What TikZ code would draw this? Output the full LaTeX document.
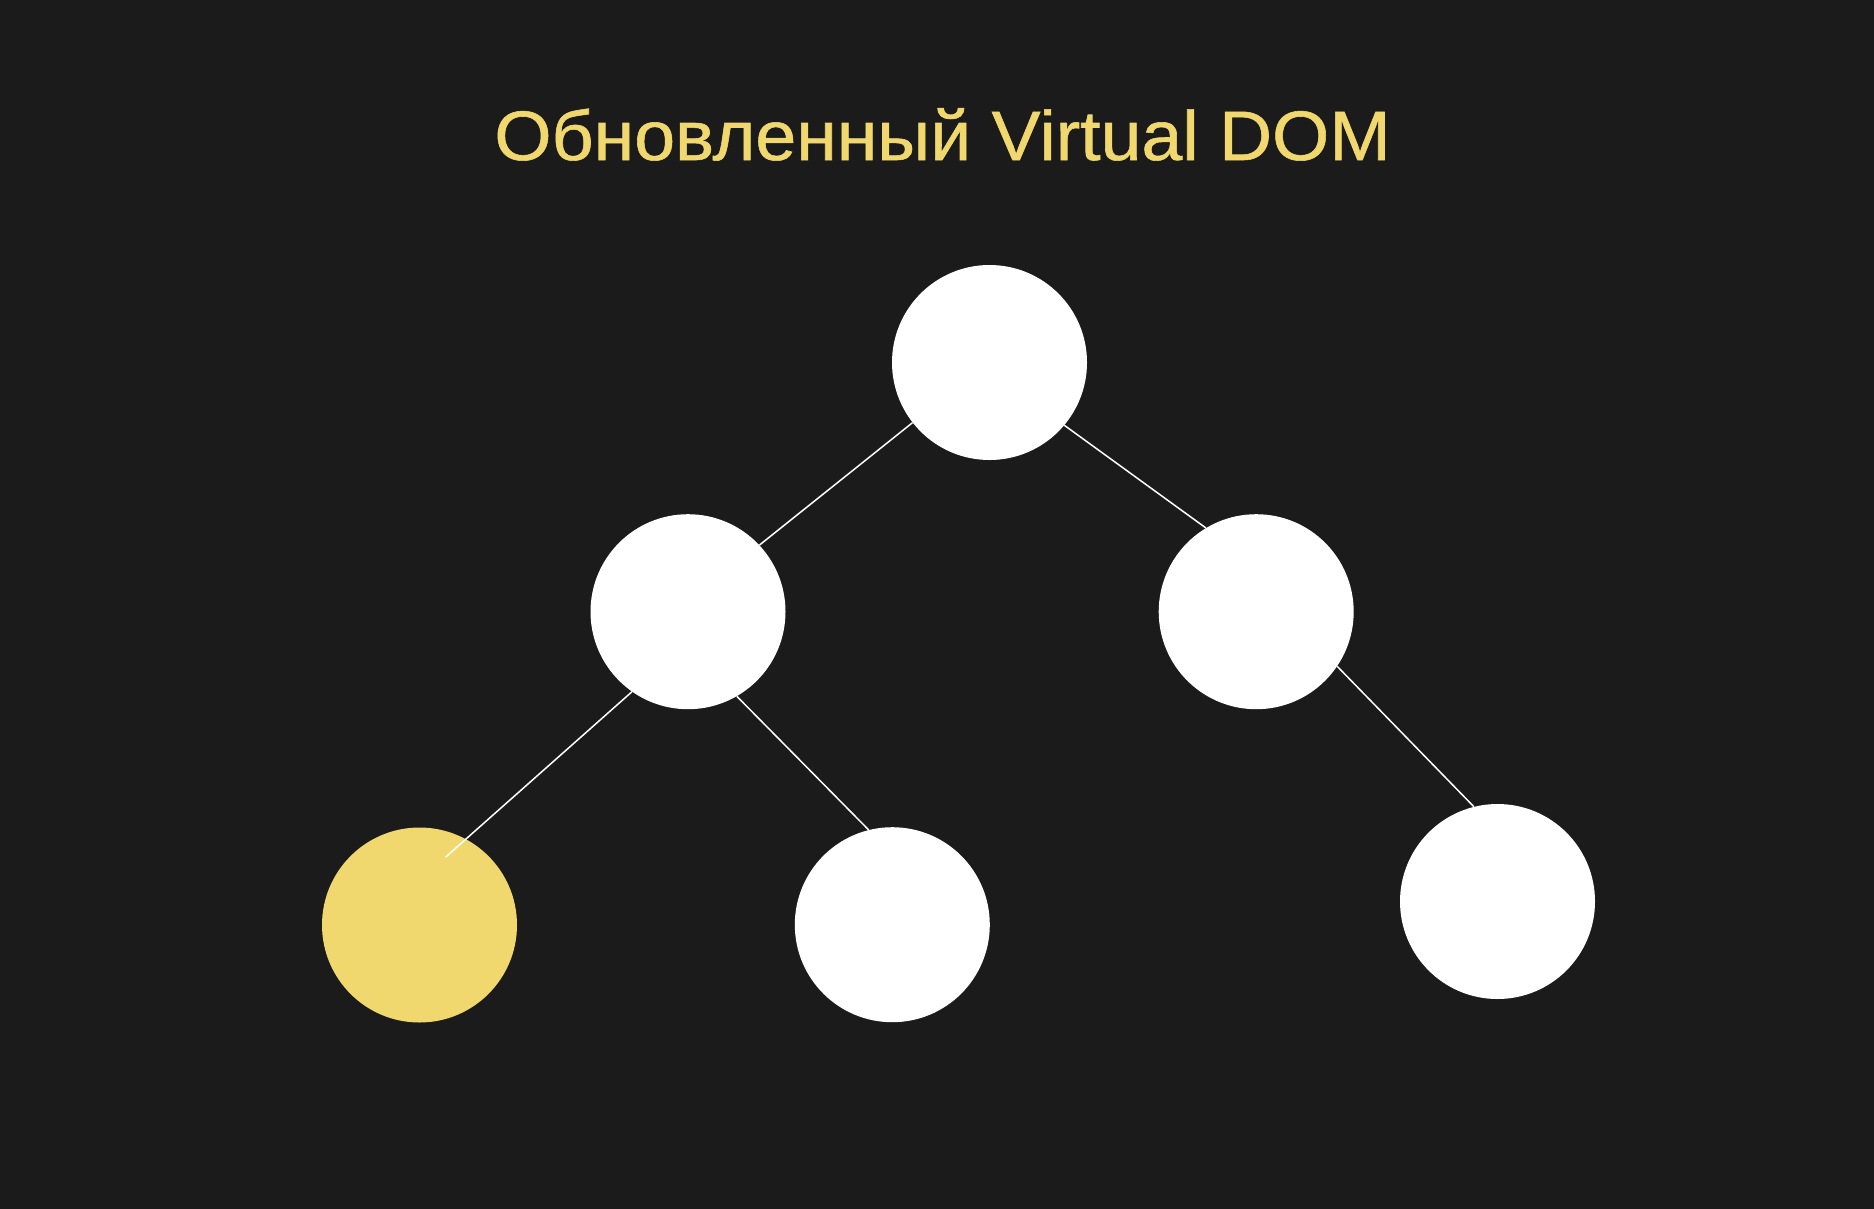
\documentclass[tikz,border=0pt]{standalone}
\usepackage{fontspec}
\setmainfont{Liberation Sans}[FakeBold=0.8]
\definecolor{bgc}{HTML}{1B1B1B}
\definecolor{ylw}{HTML}{F0D86E}
\tikzset{
  vnode/.style={circle, fill=white, draw=none, minimum size=195pt, inner sep=0pt},
  vnew/.style={vnode, fill=ylw},
  edge/.style={draw=white, line width=1.5pt},
  ttl/.style={text=ylw, font=\fontsize{70}{74}\selectfont, inner sep=0pt, anchor=base}
}
\begin{document}
\begin{tikzpicture}[x=1pt, y=-1pt]
\useasboundingbox (0,0) rectangle (1874,1208);
\fill[bgc] (-5,-5) rectangle (1879,1213);
\node[ttl] (title) at (942.5,160) {\scalebox{1.05}[1]{Обновленный Virtual DOM}};
\node[vnode] (root) at (989.5,362.5) {};
\node[vnode] (l) at (688,611.7) {};
\node[vnode] (r) at (1256.2,611.7) {};
\node[vnew] (y) at (419.5,925) {};
\node[vnode] (b) at (892.3,924.7) {};
\node[vnode] (br) at (1497.5,901.5) {};
\coordinate (yend) at (445.7,857);
\draw[edge] (root.218.9) -- (l.43.5);
\draw[edge] (root.320.4) -- (r.121.5);
\draw[edge] (l.300.8) -- (b.104.6);
\draw[edge] (l.235.9) -- (yend);
\draw[edge] (r.326) -- (br.104.3);
\end{tikzpicture}
\end{document}
